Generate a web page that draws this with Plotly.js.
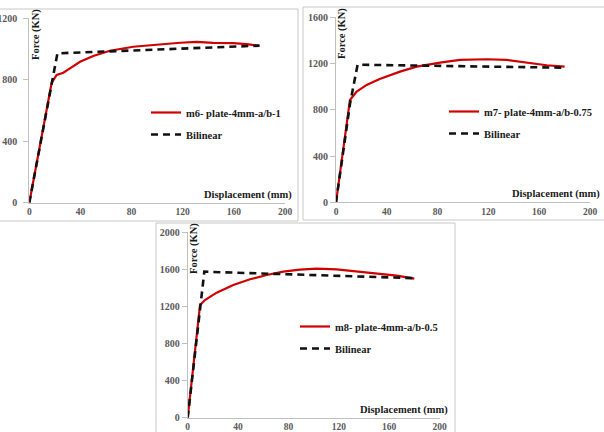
<!DOCTYPE html>
<html>
<head>
<meta charset="utf-8">
<script src="https://cdn.plot.ly/plotly-3.0.1.min.js"></script>
<style>html,body{margin:0;padding:0;background:#fff;}#chart{width:604px;height:432px;}</style>
</head>
<body>
<div id="chart"></div>
<script>
// ---- Data (Displacement in mm, Force in KN) ----
const m6Disp = [0, 17.5, 21.4, 26.6, 31.8, 39.7, 50, 63.1, 81.3, 102, 117.9, 130.9, 143.9, 159.6, 170, 180];
const m6Force = [0, 781, 831, 846, 874, 917, 955, 989, 1015, 1032, 1041, 1046, 1040, 1039, 1032, 1020];
const m6BiDisp = [0, 17.5, 22, 180];
const m6BiForce = [0, 785, 972, 1022];

const m7Disp = [0, 11, 16.3, 24.1, 34.4, 50.4, 63.5, 81.9, 97.6, 118.6, 134.4, 150.1, 165.9, 180];
const m7Force = [0, 885, 957, 1015, 1067, 1130, 1173, 1208, 1231, 1237, 1231, 1208, 1185, 1173];
const m7BiDisp = [0, 11, 17, 180];
const m7BiForce = [0, 850, 1190, 1164];

const m8Disp = [0, 9.8, 13.7, 23, 36.2, 49.5, 62.7, 75.9, 89.2, 102.4, 118.3, 134.2, 150.1, 166, 180];
const m8Force = [0, 1216, 1269, 1349, 1431, 1493, 1539, 1575, 1597, 1608, 1601, 1579, 1558, 1532, 1500];
const m8BiDisp = [0, 9.8, 13.2, 180];
const m8BiForce = [0, 1200, 1575, 1505];

const seriesNames = ['m6- plate-4mm-a/b-1', 'm7- plate-4mm-a/b-0.75', 'm8- plate-4mm-a/b-0.5'];
const bilinearName = 'Bilinear';
const xTicks = [0, 40, 80, 120, 160, 200];
const yTicks6 = [0, 400, 800, 1200];
const yTicks7 = [0, 400, 800, 1200, 1600];
const yTicks8 = [0, 400, 800, 1200, 1600, 2000];
const xTitle = 'Displacement (mm)';
const yTitle = 'Force (KN)';

// ---- Helpers (pixel -> paper) ----
const W = 604, H = 432;
const px = x => x / W;
const py = y => 1 - y / H;

const RED = '#d00000';
const serif = 'Liberation Serif, Times New Roman, serif';

function redTrace(x, y, name, xa, ya, lg, grp) {
  return {x, y, name, xaxis: xa, yaxis: ya, legend: lg, legendgroup: grp, type: 'scatter', mode: 'lines',
    line: {color: RED, width: 2.2}};
}
function biTrace(x, y, xa, ya, lg, grp) {
  return {x, y, name: bilinearName, xaxis: xa, yaxis: ya, legend: lg, legendgroup: grp, type: 'scatter', mode: 'lines',
    line: {color: '#111', width: 2.6, dash: '7px,5px'}};
}

const data = [
  redTrace(m6Disp, m6Force, seriesNames[0], 'x', 'y', 'legend', 'a1'),
  biTrace(m6BiDisp, m6BiForce, 'x', 'y', 'legend', 'b1'),
  redTrace(m7Disp, m7Force, seriesNames[1], 'x2', 'y2', 'legend2', 'a2'),
  biTrace(m7BiDisp, m7BiForce, 'x2', 'y2', 'legend2', 'b2'),
  redTrace(m8Disp, m8Force, seriesNames[2], 'x3', 'y3', 'legend3', 'a3'),
  biTrace(m8BiDisp, m8BiForce, 'x3', 'y3', 'legend3', 'b3')
];

const tickFont = {family: serif, size: 10, color: '#595959', weight: 'bold'};
function xAxis(d0, d1, anchor) {
  return {domain: [px(d0), px(d1)], range: [0, 200], anchor, tickvals: xTicks, ticktext: xTicks.map(String),
    showline: true, linecolor: '#c0c0c0', linewidth: 1, ticks: 'outside', ticklen: 0, tickcolor: '#c0c0c0',
    showgrid: false, zeroline: false, tickfont: {...tickFont, size: 9.5}, fixedrange: true};
}
function yAxis(d0, d1, max, ticks, anchor, standoff) {
  return {domain: [py(d0), py(d1)], range: [0, max], anchor, tickvals: ticks, ticktext: ticks.map(String),
    showline: true, linecolor: '#c0c0c0', linewidth: 1, ticks: 'outside', ticklen: 5, tickcolor: '#c0c0c0',
    ticklabelstandoff: standoff || 0,
    showgrid: false, zeroline: false, tickfont: tickFont, fixedrange: true};
}

const legFont = {family: serif, size: 10.5, color: '#1a1a1a', weight: 'bold'};
function legend(x, y) {
  return {x: px(x), y: py(y), xanchor: 'left', yanchor: 'top', bgcolor: 'rgba(0,0,0,0)',
    font: legFont, itemwidth: 30, tracegroupgap: 3, borderwidth: 0};
}

const titleFont = {family: serif, size: 10.5, color: '#1a1a1a', weight: 'bold'};
function ann(text, x, y, xanchor, angle) {
  return {text, x: px(x), y: py(y), xref: 'paper', yref: 'paper', xanchor, yanchor: 'middle',
    showarrow: false, textangle: angle || 0, font: titleFont};
}

function box(x0, y0, x1, y1) {
  return {type: 'rect', xref: 'paper', yref: 'paper', x0: px(x0), x1: px(x1), y0: py(y0), y1: py(y1),
    line: {color: '#c8c8c8', width: 1}, fillcolor: 'rgba(0,0,0,0)', layer: 'below'};
}

const layout = {
  width: W, height: H,
  margin: {l: 0, r: 0, t: 0, b: 0},
  paper_bgcolor: '#fff', plot_bgcolor: 'rgba(0,0,0,0)',
  showlegend: true,
  xaxis: xAxis(29.3, 285, 'y'),
  yaxis: yAxis(202.7, 18.3, 1200, yTicks6, 'x', 4),
  xaxis2: xAxis(336, 590, 'y2'),
  yaxis2: yAxis(202.3, 17.3, 1600, yTicks7, 'x2'),
  xaxis3: xAxis(187.7, 439.5, 'y3'),
  yaxis3: yAxis(417.7, 232.3, 2000, yTicks8, 'x3'),
  legend: legend(146, 98),
  legend2: legend(444, 97),
  legend3: legend(295, 312),
  annotations: [
    ann(yTitle, 36, 35, 'center', -90),
    ann(yTitle, 342, 34, 'center', -90),
    ann(yTitle, 194, 248, 'center', -90),
    ann(xTitle, 294, 195, 'right'),
    ann(xTitle, 602, 194, 'right'),
    ann(xTitle, 450, 410, 'right')
  ],
  shapes: [
    box(-2, 9, 298, 221),
    box(303, 7, 606, 220),
    box(156, 223, 455, 434)
  ]
};

Plotly.newPlot('chart', data, layout, {displayModeBar: false, staticPlot: true});
</script>
</body>
</html>
